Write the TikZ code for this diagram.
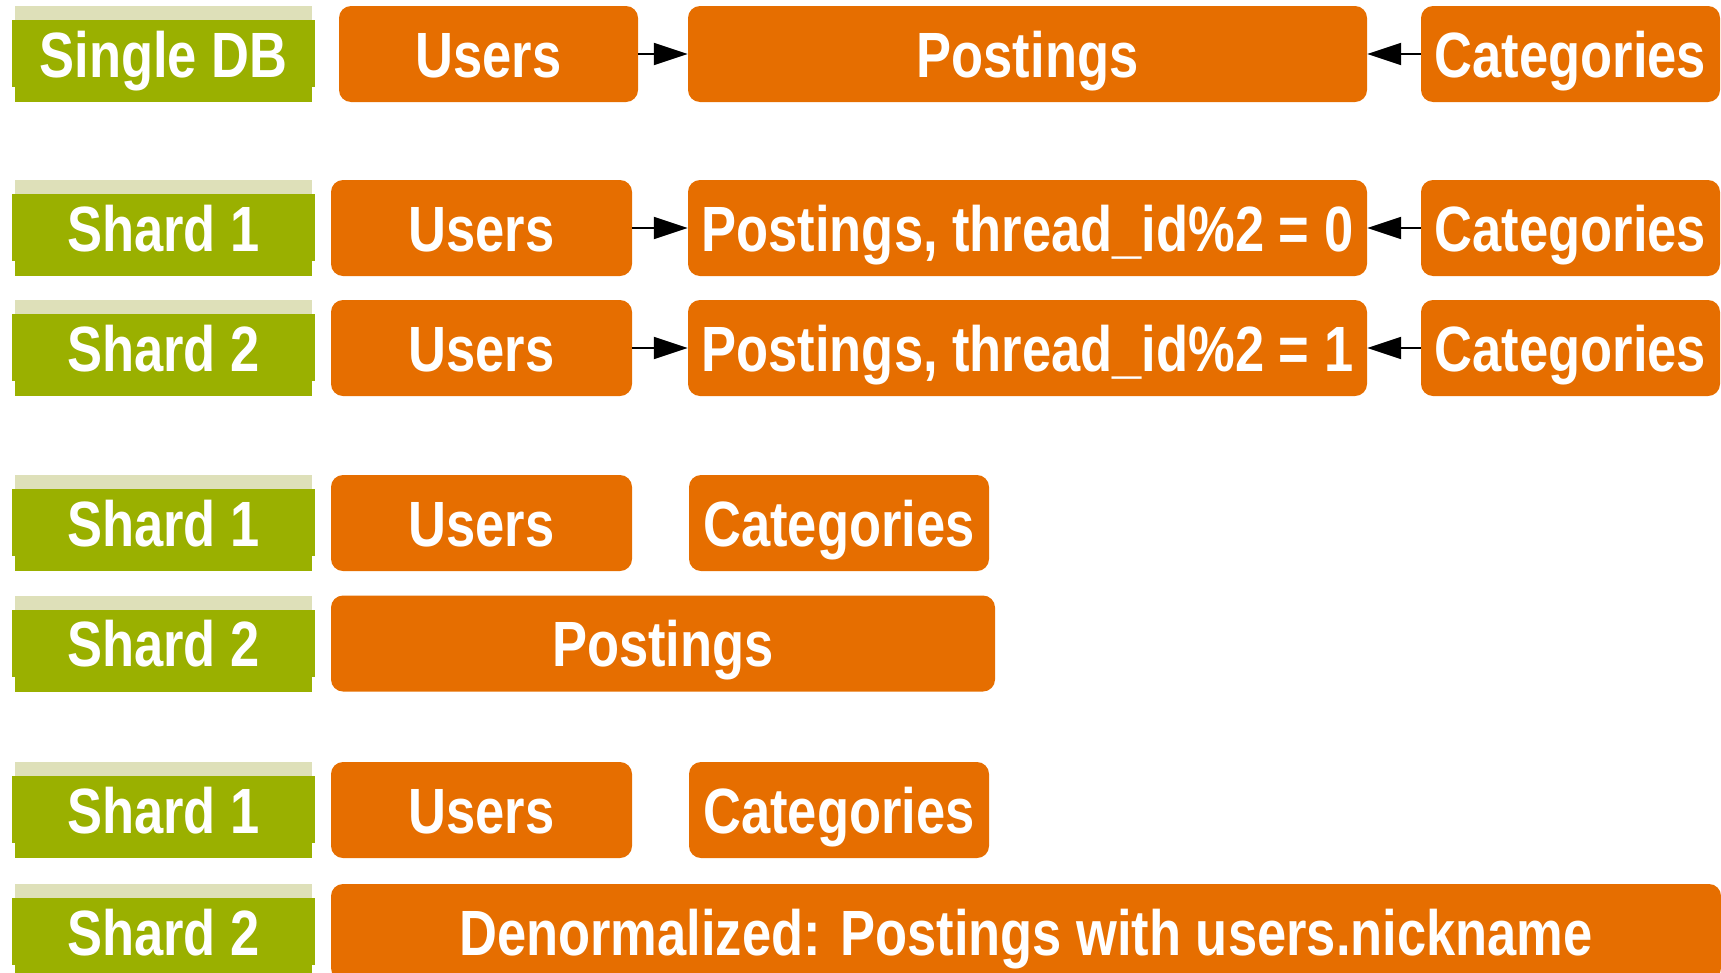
\documentclass[tikz,border=0pt]{standalone}
\usepackage{fontspec}
\setmainfont{Liberation Sans}
\newfontfamily\cond{Liberation Sans}[FakeStretch=0.82]
\usetikzlibrary{arrows.meta}
\definecolor{shardgreen}{RGB}{154,176,0}
\definecolor{shardlight}{RGB}{222,224,185}
\definecolor{tableorange}{RGB}{230,110,0}
\tikzset{
  boxtext/.style={text=white, font=\cond\bfseries\fontsize{64}{70}\selectfont, text height=46pt, text depth=0pt, inner sep=0pt, minimum height=96pt},
  shard/.style={boxtext, minimum width=303pt,
    path picture={
      \fill[shardlight] ([xshift=3pt]path picture bounding box.north west) rectangle ([xshift=-3pt,yshift=-14pt]path picture bounding box.north east);
      \fill[shardgreen] ([xshift=3pt]path picture bounding box.south west) rectangle ([xshift=-3pt,yshift=-14pt]path picture bounding box.north east);
      \fill[shardgreen] ([yshift=-14pt]path picture bounding box.north west) rectangle ([yshift=15pt]path picture bounding box.south east);
    }},
  tbl/.style={boxtext, fill=tableorange, rounded corners=12pt, minimum width=#1},
  tbl/.default=300pt,
  ref/.style={-{Triangle[length=34pt,width=22pt]}, line width=2pt}
}
\begin{document}
\begin{tikzpicture}[x=1pt,y=-1pt]
\useasboundingbox (0,0) rectangle (1721,972);
\node[shard] (db) at (163.5,54) {Single DB};
\node[tbl=299pt] (u0) at (488.5,54) {Users};
\node[tbl=679pt] (p0) at (1027.5,54) {Postings};
\node[tbl=299pt] (c0) at (1570.5,54) {Categories};
\draw[ref] (u0) -- (p0);
\draw[ref] (c0) -- (p0);

\node[shard] (s1a) at (163.5,228) {Shard 1};
\node[tbl=301pt] (u1a) at (481.5,228) {Users};
\node[tbl=679pt] (p1a) at (1027.5,228) {Postings, thread\_id\%2 = 0};
\node[tbl=299pt] (c1a) at (1570.5,228) {Categories};
\draw[ref] (u1a) -- (p1a);
\draw[ref] (c1a) -- (p1a);

\node[shard] (s2a) at (163.5,348) {Shard 2};
\node[tbl=301pt] (u2a) at (481.5,348) {Users};
\node[tbl=679pt] (p2a) at (1027.5,348) {Postings, thread\_id\%2 = 1};
\node[tbl=299pt] (c2a) at (1570.5,348) {Categories};
\draw[ref] (u2a) -- (p2a);
\draw[ref] (c2a) -- (p2a);

\node[shard] (s1b) at (163.5,523) {Shard 1};
\node[tbl=301pt] (u1b) at (481.5,523) {Users};
\node[tbl=300pt] (c1b) at (839,523) {Categories};
\node[shard] (s2b) at (163.5,643.5) {Shard 2};
\node[tbl=664pt] (p2b) at (663,643.5) {Postings};

\node[shard] (s1c) at (163.5,810) {Shard 1};
\node[tbl=301pt] (u1c) at (481.5,810) {Users};
\node[tbl=300pt] (c1c) at (839,810) {Categories};
\node[shard] (s2c) at (163.5,932) {Shard 2};
\node[tbl=1390pt] (d2c) at (1026,932) {Denormalized: Postings with users.nickname};
\end{tikzpicture}
\end{document}
